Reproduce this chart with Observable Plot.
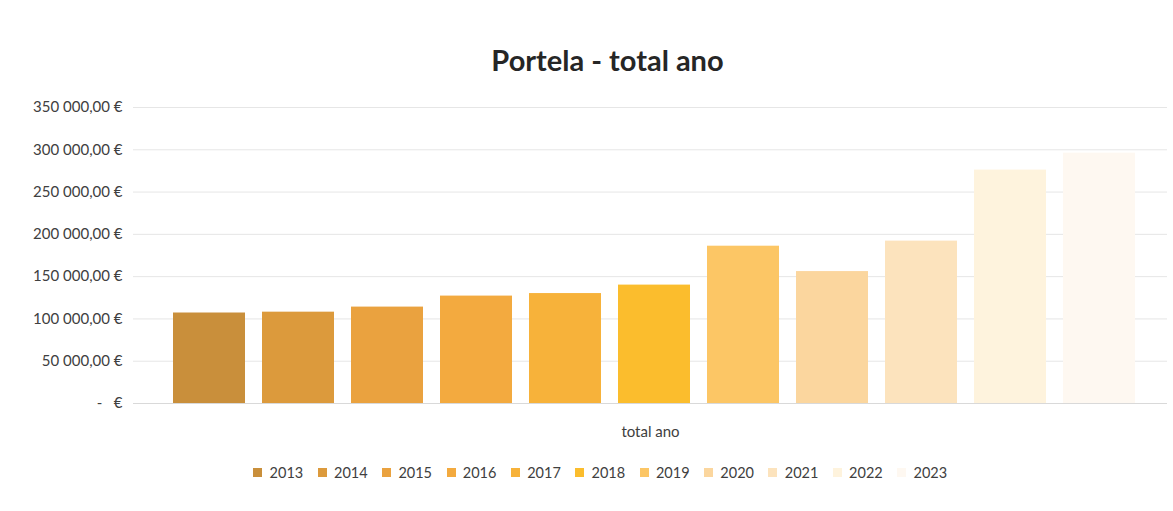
<!DOCTYPE html>
<html>
<head>
<meta charset="utf-8">
<script src="https://cdn.jsdelivr.net/npm/d3@7"></script>
<script src="https://cdn.jsdelivr.net/npm/@observablehq/plot@0.6"></script>
<style>
  html, body { margin: 0; padding: 0; background: #ffffff; }
  body { width: 1173px; height: 511px; overflow: hidden; font-family: Lato, "Open Sans", sans-serif; color: #404040; }
  #title { box-sizing: border-box; height: 90px; padding-top: 45px; padding-left: 42px; text-align: center; font-size: 29px; line-height: 29px; font-weight: bold; color: #262626; }
  #chart svg { display: block; }
  #legend { box-sizing: border-box; padding-left: 42px; padding-top: 6px; display: flex; justify-content: center; }
  #legend > div, #legend figure { margin: 0; }
</style>
</head>
<body>
<div id="title">Portela - total ano</div>
<div id="chart"></div>
<div id="legend"></div>
<script>
const years = ["2013", "2014", "2015", "2016", "2017", "2018", "2019", "2020", "2021", "2022", "2023"];
const totals = [107000, 108000, 114000, 127000, 130000, 140000, 186000, 156000, 192000, 276000, 296000];
const colors = ["#c98f3b", "#dc9a3c", "#eaa23f", "#f3aa3f", "#f7b23a", "#fbbd2d", "#fcc665", "#fbd69e", "#fce3bd", "#fef3dd", "#fef8f1"];
const yTicks = [0, 50000, 100000, 150000, 200000, 250000, 300000, 350000];
const categoryLabel = "total ano";

const data = years.map((y, i) => ({year: y, value: totals[i]}));

const locale = d3.formatLocale({decimal: ",", thousands: "\u00a0", grouping: [3], currency: ["", "\u00a0€"]});
const fmt = locale.format("$,.2f");
const tickFormat = d => d === 0 ? "-\u00a0\u00a0\u00a0€" : fmt(d);

const chart = Plot.plot({
  width: 1173,
  height: 360,
  marginLeft: 133,
  marginRight: 6,
  marginTop: 17,
  marginBottom: 47,
  style: {fontFamily: "Lato, 'Open Sans', sans-serif", fontSize: "15px", color: "#404040", background: "transparent"},
  x: {domain: years, paddingInner: 0.19, paddingOuter: 0, insetLeft: 37, insetRight: 29, axis: null},
  y: {domain: [0, 350000], ticks: yTicks, tickFormat, tickSize: 0, tickPadding: 11, label: null},
  color: {domain: years, range: colors},
  marks: [
    Plot.gridY(yTicks, {stroke: "#e6e6e6", strokeOpacity: 1}),
    Plot.barY(data, {x: "year", y: "value", fill: "year"}),
    Plot.ruleY([0], {stroke: "#d9d9d9"}),
    Plot.axisY(yTicks, {tickFormat, tickSize: 0, tickPadding: 11, label: null, fill: "#404040"}),
    Plot.text([categoryLabel], {frameAnchor: "bottom", dy: 33, fill: "#404040", fontSize: 15})
  ]
});
document.getElementById("chart").appendChild(chart);

const legend = Plot.legend({
  color: {type: "ordinal", domain: years, range: colors},
  swatchSize: 9,
  style: {fontFamily: "Lato, 'Open Sans', sans-serif", fontSize: "14.5px", color: "#404040", background: "transparent"}
});
document.getElementById("legend").appendChild(legend);
</script>
</body>
</html>
